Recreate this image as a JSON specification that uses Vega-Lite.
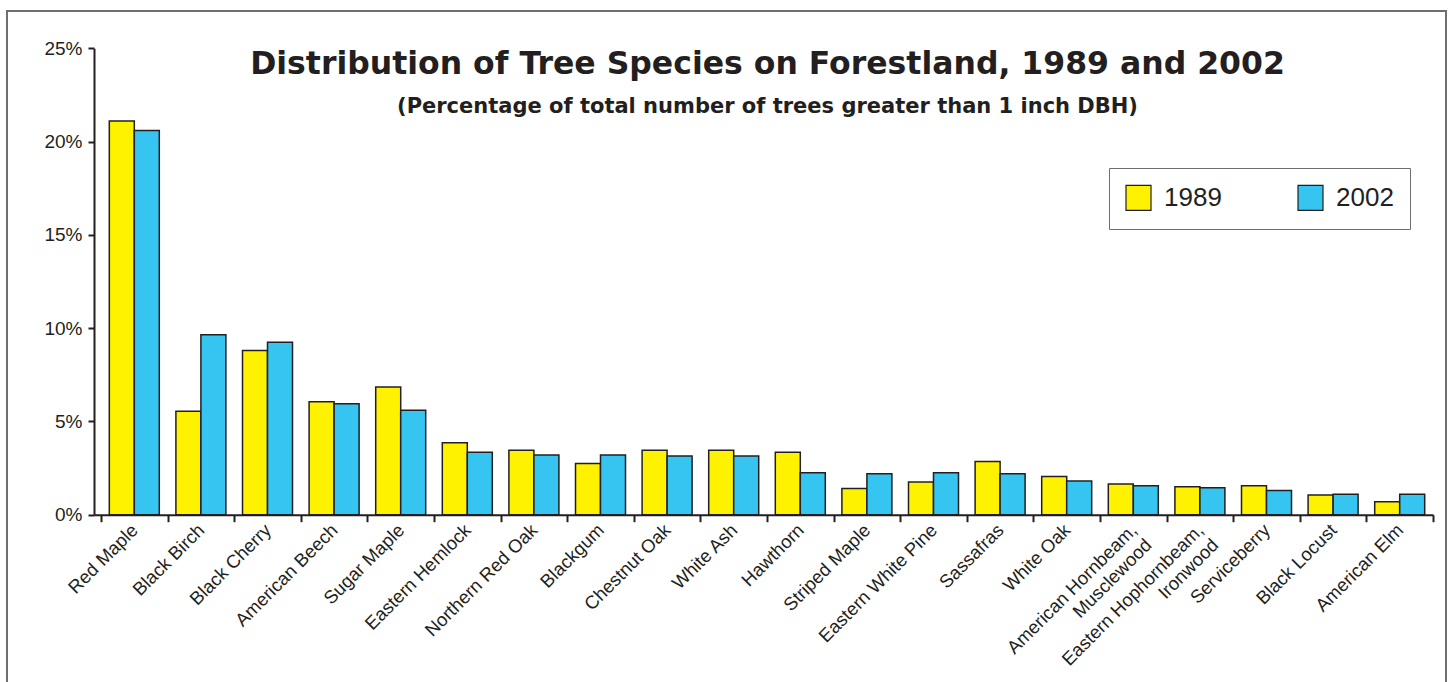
{
  "$schema": "https://vega.github.io/schema/vega-lite/v6.json",
  "width": 1439,
  "height": 679,
  "autosize": {"type": "none"},
  "padding": {"left": 7, "top": 11, "right": 4, "bottom": -8},
  "background": "white",
  "config": {
    "font": "Liberation Sans",
    "view": {"stroke": "#6d6e71", "strokeWidth": 2}
  },
  "title": {
    "text": "Distribution of Tree Species on Forestland, 1989 and 2002",
    "subtitle": "(Percentage of total number of trees greater than 1 inch DBH)",
    "font": "DejaVu Sans",
    "fontSize": 31.5,
    "fontWeight": "bold",
    "subtitleFontSize": 21,
    "subtitleFontWeight": "bold",
    "subtitleFont": "DejaVu Sans",
    "color": "#231f20",
    "subtitleColor": "#231f20",
    "anchor": "middle",
    "dx": 41,
    "offset": -106,
    "subtitlePadding": 16
  },
  "data": {
    "values": [
      {"species": "Red Maple", "year": "1989", "pct": 21.1},
      {"species": "Red Maple", "year": "2002", "pct": 20.6},
      {"species": "Black Birch", "year": "1989", "pct": 5.55},
      {"species": "Black Birch", "year": "2002", "pct": 9.65},
      {"species": "Black Cherry", "year": "1989", "pct": 8.8},
      {"species": "Black Cherry", "year": "2002", "pct": 9.25},
      {"species": "American Beech", "year": "1989", "pct": 6.05},
      {"species": "American Beech", "year": "2002", "pct": 5.95},
      {"species": "Sugar Maple", "year": "1989", "pct": 6.85},
      {"species": "Sugar Maple", "year": "2002", "pct": 5.6},
      {"species": "Eastern Hemlock", "year": "1989", "pct": 3.85},
      {"species": "Eastern Hemlock", "year": "2002", "pct": 3.35},
      {"species": "Northern Red Oak", "year": "1989", "pct": 3.45},
      {"species": "Northern Red Oak", "year": "2002", "pct": 3.2},
      {"species": "Blackgum", "year": "1989", "pct": 2.75},
      {"species": "Blackgum", "year": "2002", "pct": 3.2},
      {"species": "Chestnut Oak", "year": "1989", "pct": 3.45},
      {"species": "Chestnut Oak", "year": "2002", "pct": 3.15},
      {"species": "White Ash", "year": "1989", "pct": 3.45},
      {"species": "White Ash", "year": "2002", "pct": 3.15},
      {"species": "Hawthorn", "year": "1989", "pct": 3.35},
      {"species": "Hawthorn", "year": "2002", "pct": 2.25},
      {"species": "Striped Maple", "year": "1989", "pct": 1.4},
      {"species": "Striped Maple", "year": "2002", "pct": 2.2},
      {"species": "Eastern White Pine", "year": "1989", "pct": 1.75},
      {"species": "Eastern White Pine", "year": "2002", "pct": 2.25},
      {"species": "Sassafras", "year": "1989", "pct": 2.85},
      {"species": "Sassafras", "year": "2002", "pct": 2.2},
      {"species": "White Oak", "year": "1989", "pct": 2.05},
      {"species": "White Oak", "year": "2002", "pct": 1.8},
      {"species": "American Hornbeam,|Musclewood", "year": "1989", "pct": 1.65},
      {"species": "American Hornbeam,|Musclewood", "year": "2002", "pct": 1.55},
      {"species": "Eastern Hophornbeam,|Ironwood", "year": "1989", "pct": 1.5},
      {"species": "Eastern Hophornbeam,|Ironwood", "year": "2002", "pct": 1.45},
      {"species": "Serviceberry", "year": "1989", "pct": 1.55},
      {"species": "Serviceberry", "year": "2002", "pct": 1.3},
      {"species": "Black Locust", "year": "1989", "pct": 1.05},
      {"species": "Black Locust", "year": "2002", "pct": 1.1},
      {"species": "American Elm", "year": "1989", "pct": 0.7},
      {"species": "American Elm", "year": "2002", "pct": 1.1}
    ]
  },
  "mark": {"type": "bar", "stroke": "#231f20", "strokeWidth": 1.5},
  "encoding": {
    "x": {
      "field": "species",
      "type": "nominal",
      "sort": null,
      "scale": {"range": [87, 1426], "paddingInner": 0, "paddingOuter": 0.0526, "align": 1},
      "axis": {
        "orient": "bottom",
        "offset": -175.3,
        "title": null,
        "tickBand": "extent",
        "tickSize": 7,
        "tickWidth": 2,
        "tickColor": "#231f20",
        "domainColor": "#231f20",
        "domainWidth": 2,
        "labelAngle": -45,
        "labelAlign": "right",
        "labelBaseline": "middle",
        "labelPadding": 5,
        "labelFontSize": 18.5,
        "labelLineHeight": 21,
        "labelColor": "#231f20",
        "labelLimit": 400,
        "labelOverlap": false,
        "labelExpr": "split(datum.label, '|')"
      }
    },
    "xOffset": {
      "field": "year",
      "type": "nominal",
      "scale": {"paddingInner": 0, "paddingOuter": 0.332}
    },
    "y": {
      "field": "pct",
      "type": "quantitative",
      "scale": {"domain": [0, 25], "range": [503.7, 37.3], "nice": false, "zero": true},
      "axis": {
        "orient": "left",
        "offset": -87,
        "title": null,
        "grid": false,
        "values": [0, 5, 10, 15, 20, 25],
        "labelExpr": "datum.value + '%'",
        "tickSize": 6,
        "tickWidth": 2,
        "tickColor": "#231f20",
        "domainColor": "#231f20",
        "domainWidth": 2,
        "labelPadding": 6,
        "labelFontSize": 19,
        "labelColor": "#231f20"
      }
    },
    "color": {
      "field": "year",
      "type": "nominal",
      "scale": {"domain": ["1989", "2002"], "range": ["#fff200", "#36c5f0"]},
      "legend": {
        "orient": "none",
        "legendX": 1102,
        "legendY": 157,
        "direction": "horizontal",
        "title": null,
        "padding": 16,
        "strokeColor": "#6d6e71",
        "fillColor": "white",
        "symbolType": "square",
        "symbolSize": 625,
        "symbolStrokeColor": "#231f20",
        "symbolStrokeWidth": 1.2,
        "symbolOpacity": 1,
        "labelFontSize": 26,
        "labelOffset": 12,
        "labelColor": "#231f20",
        "columnPadding": 73
      }
    }
  }
}
